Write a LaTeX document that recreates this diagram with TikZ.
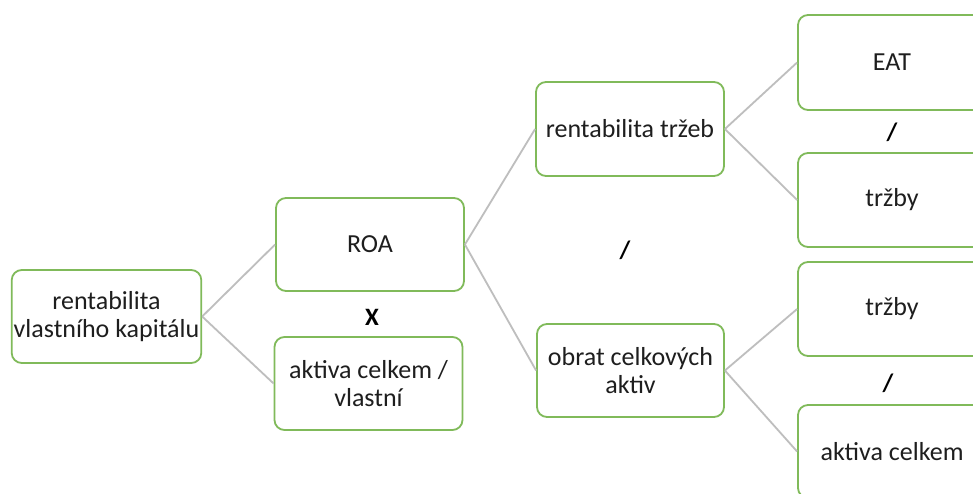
\documentclass[tikz,border=0pt]{standalone}
\usepackage{fontspec}
\setmainfont{Carlito}
\definecolor{boxgreen}{RGB}{128,186,90}
\definecolor{linegray}{RGB}{190,190,190}
\definecolor{txt}{RGB}{30,30,30}
\tikzset{
  box/.style={draw=boxgreen, line width=1.8pt, rounded corners=10pt, fill=white,
    minimum width=188pt, minimum height=93pt, align=center, text=txt,
    font=\fontsize{26}{28}\selectfont, inner sep=2pt},
  conn/.style={draw=linegray, line width=1.8pt},
  op/.style={font=\bfseries\fontsize{25}{28}\selectfont, text=black, inner sep=0pt}
}
\begin{document}
\begin{tikzpicture}[x=1pt,y=-1pt]
\useasboundingbox (0,0) rectangle (973,493);
\clip (0,0) rectangle (973,493);
\fill[white] (0,0) rectangle (973,493);
\node[box] (rvk) at (106.5,316.5) {rentabilita\\vlastního kapitálu};
\node[box] (roa) at (370,244.5) {ROA};
\node[box] (akv) at (368.5,383.5) {aktiva celkem /\\vlastní};
\node[box, minimum height=94pt] (rt) at (630,129) {rentabilita tržeb};
\node[box, minimum width=187pt] (oca) at (630.5,370.5) {obrat celkových\\aktiv};
\node[box, minimum height=95pt] (eat) at (892,62.5) {EAT};
\node[box, minimum height=94pt] (tr1) at (892,200) {tržby};
\node[box, minimum height=94pt] (tr2) at (892,309) {tržby};
\node[box] (ac) at (892,451.5) {aktiva celkem};
\node[op] (x1) at (372,317) {X};
\node[op] (d1) at (625,250) {/};
\node[op] (d2) at (892,132) {/};
\node[op] (d3) at (888,383) {/};
\draw[conn] (rvk.east) -- (roa.west);
\draw[conn] (rvk.east) -- (akv.west);
\draw[conn] (roa.east) -- (rt.west);
\draw[conn] (roa.east) -- (oca.west);
\draw[conn] (rt.east) -- (eat.west);
\draw[conn] (rt.east) -- (tr1.west);
\draw[conn] (oca.east) -- (tr2.west);
\draw[conn] (oca.east) -- (ac.west);
\end{tikzpicture}
\end{document}
